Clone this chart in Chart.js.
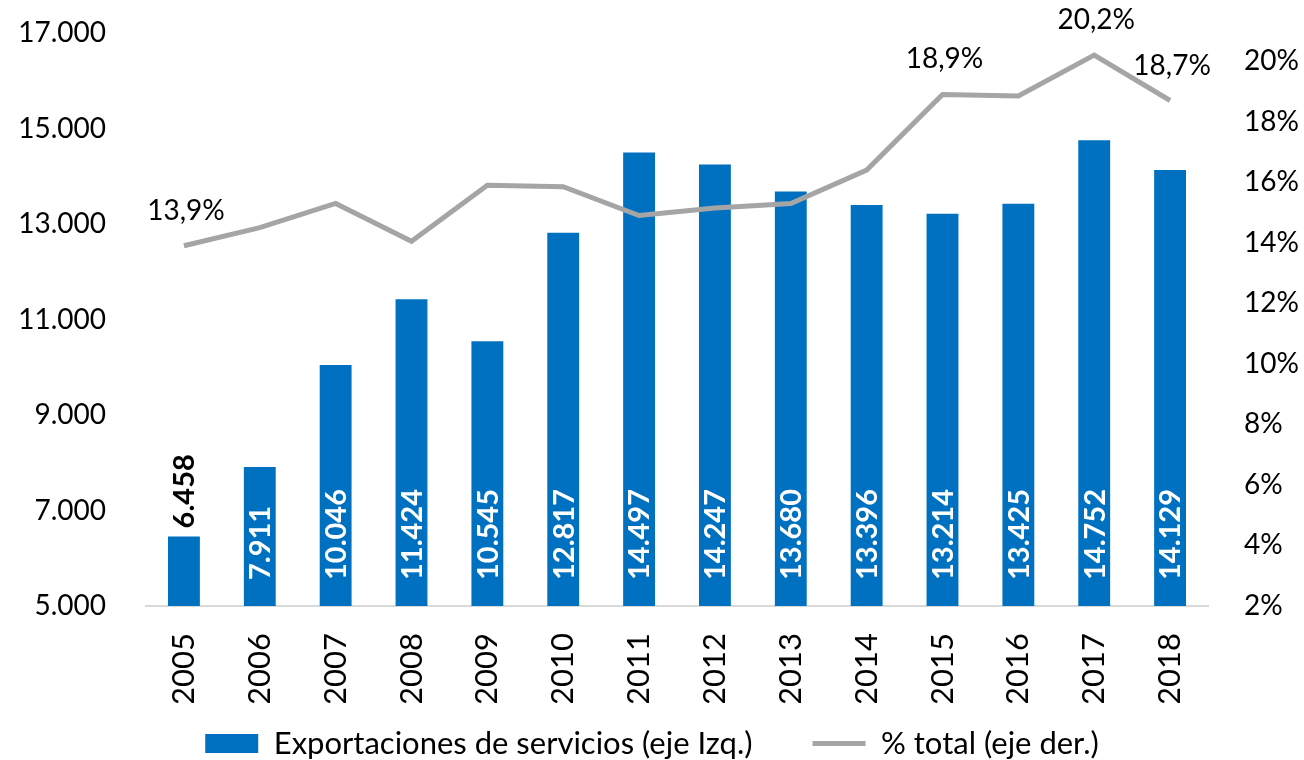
<!DOCTYPE html>
<html>
<head>
<meta charset="utf-8">
<script src="https://cdn.jsdelivr.net/npm/chart.js@4/dist/chart.umd.min.js"></script>
<style>
  html, body { margin: 0; padding: 0; background: #fff; }
  #wrap { width: 1304px; height: 760px; }
</style>
</head>
<body>
<div id="wrap"><canvas id="chart" width="1304" height="760"></canvas></div>
<script>
const years = ["2005", "2006", "2007", "2008", "2009", "2010", "2011", "2012", "2013", "2014", "2015", "2016", "2017", "2018"];
const exportaciones = [6458, 7911, 10046, 11424, 10545, 12817, 14497, 14247, 13680, 13396, 13214, 13425, 14752, 14129];
const pctTotal = [13.9, 14.5, 15.3, 14.05, 15.9, 15.85, 14.9, 15.15, 15.3, 16.4, 18.9, 18.85, 20.2, 18.7];
const pctLabelled = ["2005", "2015", "2017", "2018"];
const leftTicks = [5000, 7000, 9000, 11000, 13000, 15000, 17000];
const rightTicks = [2, 4, 6, 8, 10, 12, 14, 16, 18, 20];

const FONT = "Lato, 'Open Sans', sans-serif";
const BLUE = "#0070c0";
const GREY = "#a5a5a5";

const fmtMiles = v => v.toLocaleString("de-DE");
const fmtPct = v => v.toFixed(1).replace(".", ",") + "%";

// etiquetas de datos (barras giradas y % del total)
const labelsPlugin = {
  id: "etiquetas",
  beforeInit(chart) {
    // el padding de la leyenda separa los items; no queremos que ocupe alto
    const lg = chart.legend;
    const fit = lg.fit;
    const draw = lg.draw;
    lg.fit = function () { fit.call(this); this.height = 57; };
    lg.draw = function () {
      const t = this.top;
      this.top = t - 35;
      draw.call(this);
      this.top = t;
    };
  },
  afterDatasetsDraw(chart) {
    const ctx = chart.ctx;
    const base = chart.scales.y.getPixelForValue(5000);
    const bars = chart.getDatasetMeta(0).data;
    ctx.save();
    ctx.font = "bold 29px " + FONT;
    ctx.textBaseline = "middle";
    bars.forEach((bar, i) => {
      const txt = fmtMiles(exportaciones[i]);
      const w = ctx.measureText(txt).width;
      let y = base - 26;
      let color = "#ffffff";
      if (bar.y > y - w) { y = bar.y - 8; color = "#000000"; }
      ctx.save();
      ctx.translate(bar.x + 1, y);
      ctx.rotate(-Math.PI / 2);
      ctx.fillStyle = color;
      ctx.textAlign = "left";
      ctx.fillText(txt, 0, 0);
      ctx.restore();
    });
    const pts = chart.getDatasetMeta(1).data;
    ctx.font = "28px " + FONT;
    ctx.fillStyle = "#000";
    ctx.textAlign = "center";
    ctx.textBaseline = "alphabetic";
    pts.forEach((p, i) => {
      if (!pctLabelled.includes(years[i])) return;
      ctx.fillText(fmtPct(pctTotal[i]), p.x + 2, p.y - 26);
    });
    ctx.restore();
  }
};

Chart.defaults.font.family = FONT;
Chart.defaults.color = "#000";

new Chart(document.getElementById("chart"), {
  type: "bar",
  data: {
    labels: years,
    datasets: [
      {
        type: "bar",
        label: "Exportaciones de servicios (eje Izq.)",
        data: exportaciones,
        backgroundColor: BLUE,
        yAxisID: "y",
        barPercentage: 0.42,
        categoryPercentage: 1,
        pointStyle: "rect",
        order: 2
      },
      {
        type: "line",
        label: "% total (eje der.)",
        data: pctTotal,
        borderColor: GREY,
        backgroundColor: GREY,
        borderWidth: 5,
        pointRadius: 0,
        pointStyle: "line",
        tension: 0,
        yAxisID: "y1",
        order: 1
      }
    ]
  },
  options: {
    responsive: false,
    animation: false,
    layout: { padding: { top: 33, left: 0, right: 0, bottom: 0 } },
    plugins: {
      tooltip: { enabled: false },
      legend: {
        position: "bottom",
        labels: {
          usePointStyle: true,
          pointStyleWidth: 53,
          boxHeight: 19,
          padding: 60,
          font: { size: 31 },
          sort: (a, b) => a.datasetIndex - b.datasetIndex
        }
      }
    },
    scales: {
      x: {
        grid: { display: false, drawTicks: false },
        border: { display: true, color: "#d9d9d9", width: 2 },
        ticks: { minRotation: 90, maxRotation: 90, padding: 27, font: { size: 31 } },
        afterFit: s => { s.height = 97; }
      },
      y: {
        position: "left",
        min: 5000,
        max: 17000,
        grid: { display: false },
        border: { display: false },
        ticks: { padding: 32, font: { size: 28 }, callback: v => fmtMiles(v) },
        afterBuildTicks: s => { s.ticks = leftTicks.map(v => ({ value: v })); },
        afterFit: s => { s.width = 146; s.paddingTop = 0; s.paddingBottom = 0; }
      },
      y1: {
        position: "right",
        min: 2,
        max: 20.93,
        grid: { display: false },
        border: { display: false },
        ticks: { padding: 28, font: { size: 28 }, callback: v => v + "%" },
        afterBuildTicks: s => { s.ticks = rightTicks.map(v => ({ value: v })); },
        afterFit: s => { s.width = 96; s.paddingTop = 0; s.paddingBottom = 0; }
      }
    }
  },
  plugins: [labelsPlugin]
});
</script>
</body>
</html>
